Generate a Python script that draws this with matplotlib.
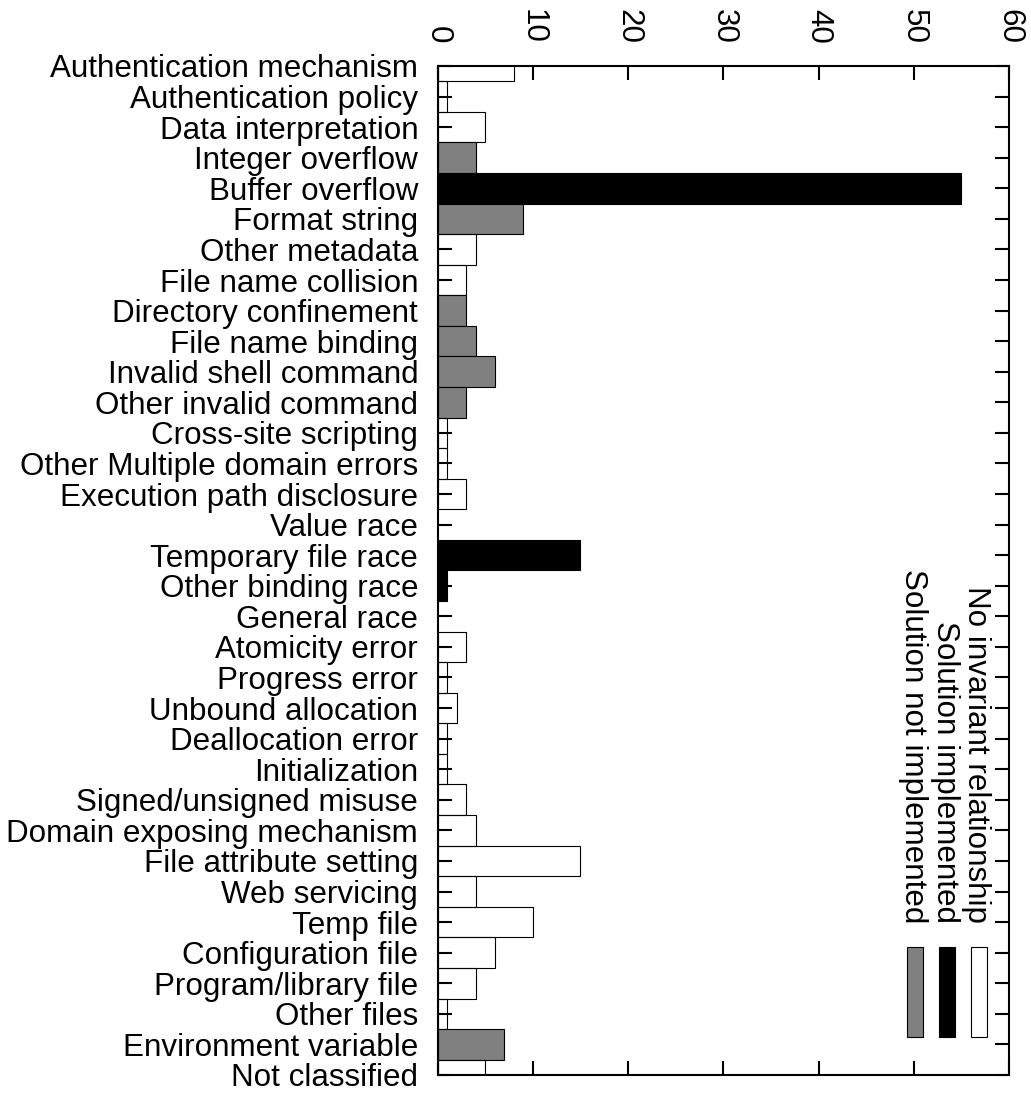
import matplotlib
matplotlib.use("Agg")
import matplotlib.pyplot as plt
from matplotlib.patches import Rectangle

plt.rcParams["font.family"] = ["Liberation Sans", "DejaVu Sans"]

categories = [
    "Authentication mechanism", "Authentication policy", "Data interpretation",
    "Integer overflow", "Buffer overflow", "Format string", "Other metadata",
    "File name collision", "Directory confinement", "File name binding",
    "Invalid shell command", "Other invalid command", "Cross-site scripting",
    "Other Multiple domain errors", "Execution path disclosure", "Value race",
    "Temporary file race", "Other binding race", "General race",
    "Atomicity error", "Progress error", "Unbound allocation",
    "Deallocation error", "Initialization", "Signed/unsigned misuse",
    "Domain exposing mechanism", "File attribute setting", "Web servicing",
    "Temp file", "Configuration file", "Program/library file", "Other files",
    "Environment variable", "Not classified",
]
counts = [8, 1, 5, 4, 55, 9, 4, 3, 3, 4, 6, 3, 1, 1, 3, 0, 15, 1, 0,
          3, 1, 2, 1, 1, 3, 4, 15, 4, 10, 6, 4, 1, 7, 5]
# n = no invariant relationship, i = solution implemented, u = not implemented
kinds = ["n", "n", "n", "u", "i", "u", "n", "n", "u", "u", "u", "u", "n",
         "n", "n", "n", "i", "i", "n", "n", "n", "n", "n", "n", "n", "n",
         "n", "n", "n", "n", "n", "n", "u", "n"]

series_names = {"n": "No invariant relationship",
                "i": "Solution implemented",
                "u": "Solution not implemented"}
fills = {"n": "none", "i": "black", "u": "#808080"}

FS = 22.6

fig = plt.figure(figsize=(10.31, 10.96), dpi=100)
ax = fig.add_axes([0.4245, 0.0192, 0.5541, 0.9206])

ypos = list(range(len(categories)))
for y, v, k in zip(ypos, counts, kinds):
    if v == 0:
        continue
    ax.barh(y, v, height=1.0, color=fills[k], edgecolor="black",
            linewidth=0.8, zorder=2)

ax.set_xlim(0, 60)
ax.set_ylim(len(categories) - 1, 0)
ax.set_xticks(range(0, 61, 10))
ax.set_yticks(ypos)
ax.set_yticklabels(categories)

for s in ax.spines.values():
    s.set_linewidth(1.5)
    s.set_zorder(3)

ax.tick_params(axis="x", direction="in", length=10, width=1.5, top=True,
               bottom=True, labeltop=True, labelbottom=False, pad=16,
               labelsize=FS, labelrotation=-90)
ax.tick_params(axis="y", direction="in", length=10, width=1.5, left=True,
               right=True, pad=14, labelsize=FS)

# legend key, rotated like the rest of the chart
text_x = [0.9423, 0.8880, 0.8320]
box_x = [0.9475, 0.8915, 0.8356]
for tx, bx, k in zip(text_x, box_x, ["n", "i", "u"]):
    ax.text(tx, 0.1506, series_names[k], transform=ax.transAxes,
            rotation=-90, ha="center", va="bottom", fontsize=FS)
    ax.add_patch(Rectangle((bx - 0.014, 0.0377), 0.028, 0.0892,
                           transform=ax.transAxes, facecolor=fills[k],
                           edgecolor="black", linewidth=0.8, zorder=4))

fig.savefig("out.png", dpi=100)
